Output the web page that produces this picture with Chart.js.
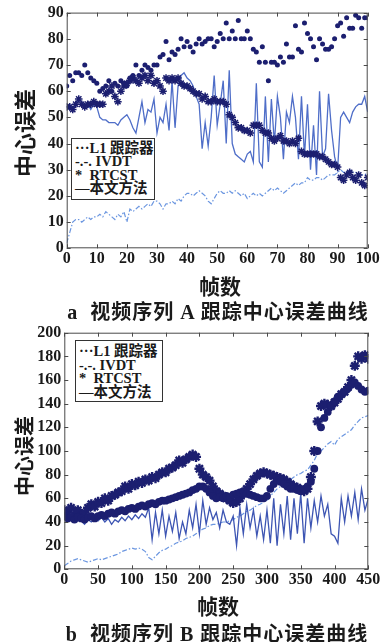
<!DOCTYPE html>
<html><head><meta charset="utf-8">
<script src="https://cdn.jsdelivr.net/npm/chart.js@4.4.1/dist/chart.umd.min.js"></script>
<style>
html,body{margin:0;padding:0;background:#fff;width:382px;height:642px;overflow:hidden;position:relative;}
.wrap{position:absolute;left:0;width:382px;height:300px;}
.t{position:absolute;color:#1a1a1a;white-space:nowrap;font-family:"Noto Sans CJK SC","Liberation Serif",serif;}
.yt{font-weight:700;transform:translate(-50%,-50%) rotate(-90deg);}
.xt{font-weight:700;transform:translate(-50%,-50%);}
.cap{font-family:"Liberation Serif","Noto Sans CJK SC",serif;font-weight:700;letter-spacing:1px;transform:translate(-50%,-50%);}
.leg{position:absolute;border:1.5px solid #333;background:#fff;box-sizing:border-box;font-family:"Liberation Serif","Noto Sans CJK SC",serif;font-weight:700;font-size:14.5px;color:#1a1a1a;padding-left:3px;}
.leg div{white-space:nowrap;}
</style></head>
<body>
<div class="wrap" style="top:0"><canvas id="ca" width="382" height="300"></canvas></div>
<div class="wrap" style="top:320px"><canvas id="cb" width="382" height="300"></canvas></div>

<div class="t yt" style="left:23px;top:133px;font-size:22px;">中心误差</div>
<div class="t xt" style="left:220px;top:285px;font-size:21px;">帧数</div>
<div class="t cap" style="left:218px;top:310px;font-size:20px;">a&nbsp; 视频序列 A 跟踪中心误差曲线</div>
<div class="leg" style="left:71px;top:138px;width:84px;height:62px;padding-top:3px;line-height:13.4px;">
<div>···L1 跟踪器</div><div>-.-. IVDT</div><div>*&nbsp; RTCST</div><div>—本文方法</div></div>

<div class="t yt" style="left:23px;top:456px;font-size:20px;">中心误差</div>
<div class="t xt" style="left:218px;top:605px;font-size:21px;">帧数</div>
<div class="t cap" style="left:217px;top:632px;font-size:20px;">b&nbsp; 视频序列 B 跟踪中心误差曲线</div>
<div class="leg" style="left:75px;top:340px;width:88px;height:62px;padding-top:4px;line-height:13.6px;">
<div>···L1 跟踪器</div><div>-.-. IVDT</div><div>*&nbsp; RTCST</div><div>—本文方法</div></div>

<script>
// ---------- Chart a data (frames 0..100) ----------
const framesA = Array.from({length:101},(_,i)=>i);
const l1A = [62,66,64,67,67,66,70,67,65,64, 63,60,61,62,64,60,63,62,64,63,
 62,65,66,70,66,68,70,69,68,70, 70,73,74,79,72,75,74,76,80,77,
 79,77,75,78,80,78,79,80,80,77, 79,82,80,86,80,83,80,87,80,80,
 83,80,76,75,71,77,71,64,71,71, 70,73,71,78,73,73,85,76,75,86,
 82,80,77,72,80,78,76,76,77,80, 85,86,81,88,84,84,89,88,84,88, 88];
const rtcstA = [54,54,53,55,57,55,54,55,55,56, 55,55,55,59,60,62,58,56,60,62,
 63,64,65,64,63,65,66,64,66,63, 64,62,60,65,64,65,64,65,63,62,
 62,61,60,59,59,57,58,56,56,57, 56,56,56,55,51,50,48,46,46,45,
 45,44,47,47,47,45,44,44,42,41, 42,43,41,41,40,41,40,42,37,36,
 36,36,36,36,35,35,34,33,32,32, 31,27,26,28,29,27,26,28,25,24, 27];
const oursA = [54,55,53,55,57,56,54,55,53,55, 54,50,49,49,48,48,48,47,49,50,
 51,49,46,44,50,56,48,53,52,57, 44,50,48,55,45,64,46,62,66,67,
 65,64,62,58,55,38,48,39,50,66, 47,55,64,40,68,40,36,35,34,33,
 36,37,33,63,33,31,58,33,57,40, 58,50,34,52,48,58,50,34,58,35,
 55,30,47,28,60,35,38,59,45,35, 30,50,52,50,48,52,54,55,55,58, 52];
const ivdtA = [2,6,10,11,11,10,11,12,11,12, 12,13,12,14,13,12,11,13,12,14,
 10,15,14,15,16,15,16,17,16,18, 18,17,15,17,17,18,17,19,18,20,
 21,21,20,21,22,21,20,18,17,19, 21,22,21,21,22,21,22,21,20,21,
 19,20,21,20,21,20,21,22,23,22, 23,22,21,22,23,24,25,24,25,25,
 27,26,26,27,27,26,27,28,28,28, 29,30,29,29,30,29,29,28,28,28, 29];
const xTicksA = [0,10,20,30,40,50,60,70,80,90,100];
const yTicksA = [0,10,20,30,40,50,60,70,80,90];

// ---------- Chart b data (every 5th frame, 0..450) ----------
const framesB = Array.from({length:91},(_,i)=>i*5);
const l1B = [45,43,44,42,44,43,42,44,45,43, 45,46,45,47,48,47,49,50,49,51,
 52,51,53,54,53,55,56,55,57,58, 58,59,60,61,62,63,64,65,67,68,
 70,70,68,65,62,60,61,60,62,61, 63,64,65,66,64,63,62,61,60,60,
 62,68,72,75,74,72,70,68,68,67, 66,68,70,74,85,100,120,128,133,138,
 142,146,148,150,153,156,158,155,152,150, 151];
const rtcstB = [50,48,52,46,50,45,48,52,55,53, 57,56,60,58,62,63,65,66,70,68,
 72,71,74,73,76,75,78,77,80,82, 82,85,86,88,92,90,93,95,97,95,
 85,80,78,75,70,66,64,62,60,58, 56,57,60,64,68,72,76,79,81,82,
 81,80,79,78,77,76,74,72,70,69, 67,66,68,78,100,125,138,140,139,138,
 141,144,148,150,154,160,172,180,178,181, 178];
const oursB = [45,42,44,40,43,41,38,42,40,43, 41,44,40,43,38,42,40,44,41,45,
 42,46,43,47,44,52,25,48,30,50, 28,45,32,48,26,40,30,50,35,55,
 30,58,38,52,42,48,35,50,40,38, 45,20,52,30,55,35,50,28,45,25,
 50,22,60,20,55,30,62,25,60,30, 64,22,60,35,58,40,62,45,55,30,
 28,22,60,40,62,45,65,42,68,50, 60];
const ivdtB = [3,5,7,8,9,8,7,6,7,8, 9,8,9,10,11,12,13,15,16,17,
 18,17,18,17,15,10,8,11,14,16, 17,19,20,22,23,24,26,27,28,30,
 32,34,35,37,38,38,39,40,40,41, 42,44,45,47,49,50,52,54,55,57,
 58,62,65,68,70,72,74,76,78,80, 81,83,84,88,92,98,100,103,106,108,
 105,110,112,114,116,118,122,125,128,129, 130];
const xTicksB = [0,50,100,150,200,250,300,350,400,450];
const yTicksB = [0,20,40,60,80,100,120,140,160,180,200];

const NAVY = '#1c1f70', DASH = '#6b96e0';

const framePlugin = {
  id: 'frame',
  afterDatasetsDraw(chart) {
    const {ctx, chartArea: a, scales: {x, y}} = chart;
    ctx.save();
    ctx.strokeStyle = '#4a4a4a';
    ctx.lineWidth = 1;
    ctx.strokeRect(a.left + 0.5, a.top + 0.5, a.right - a.left - 1, a.bottom - a.top - 1);
    ctx.beginPath();
    x.ticks.forEach(t => {
      const p = Math.round(x.getPixelForValue(t.value)) + 0.5;
      ctx.moveTo(p, a.bottom); ctx.lineTo(p, a.bottom - 4);
      ctx.moveTo(p, a.top); ctx.lineTo(p, a.top + 4);
    });
    y.ticks.forEach(t => {
      const p = Math.round(y.getPixelForValue(t.value)) + 0.5;
      ctx.moveTo(a.left, p); ctx.lineTo(a.left + 4, p);
      ctx.moveTo(a.right, p); ctx.lineTo(a.right - 4, p);
    });
    ctx.stroke();
    ctx.restore();
  }
};

function pts(xs, ys) { return xs.map((v, i) => ({x: v, y: ys[i]})); }

function makeChart(id, cfg) {
  const tickFont = {family: '"Liberation Serif", serif', size: 16, weight: 'bold'};
  return new Chart(document.getElementById(id), {
    type: 'line',
    data: {datasets: [
      {label: 'L1 跟踪器', data: pts(cfg.frames, cfg.l1), showLine: false, pointStyle: 'circle',
       pointRadius: cfg.dotR, backgroundColor: NAVY, borderColor: NAVY, pointBorderWidth: 0},
      {label: 'RTCST', data: pts(cfg.frames, cfg.rtcst), showLine: false, pointStyle: 'star',
       pointRadius: cfg.starR, borderColor: NAVY, backgroundColor: NAVY, pointBorderWidth: cfg.starW},
      {label: '本文方法', data: pts(cfg.frames, cfg.ours), borderColor: cfg.lineColor, borderWidth: 1.3,
       pointRadius: 0, tension: 0, fill: false},
      {label: 'IVDT', data: pts(cfg.frames, cfg.ivdt), borderColor: DASH, borderWidth: 1.2,
       borderDash: [5, 2, 1.5, 2], pointRadius: 0, tension: 0, fill: false}
    ]},
    options: {
      responsive: false, animation: false, devicePixelRatio: 1,
      layout: {padding: {top: cfg.padTop, right: cfg.padRight, left: 0, bottom: 0}},
      plugins: {legend: {display: false}, tooltip: {enabled: false}},
      scales: {
        x: {type: 'linear', min: cfg.xTicks[0], max: cfg.xTicks[cfg.xTicks.length - 1],
            afterBuildTicks: s => { s.ticks = cfg.xTicks.map(v => ({value: v})); },
            afterFit: s => { s.height = cfg.xH; },
            grid: {display: false, drawTicks: false}, border: {display: false},
            ticks: {autoSkip: false, maxRotation: 0, color: '#1a1a1a', font: tickFont, padding: 1}},
        y: {type: 'linear', min: cfg.yTicks[0], max: cfg.yTicks[cfg.yTicks.length - 1],
            afterBuildTicks: s => { s.ticks = cfg.yTicks.map(v => ({value: v})); },
            afterFit: s => { s.width = cfg.yW; },
            grid: {display: false, drawTicks: false}, border: {display: false},
            ticks: {autoSkip: false, color: '#1a1a1a', font: tickFont, padding: 3}}
      }
    },
    plugins: [framePlugin]
  });
}

makeChart('ca', {frames: framesA, l1: l1A, rtcst: rtcstA, ours: oursA, ivdt: ivdtA,
  xTicks: xTicksA, yTicks: yTicksA, padTop: 11.3, padRight: 14.3, yW: 66.7, xH: 51.7,
  dotR: 2.5, starR: 3.8, starW: 1.5, lineColor: '#4f6ec8'});
makeChart('cb', {frames: framesB, l1: l1B, rtcst: rtcstB, ours: oursB, ivdt: ivdtB,
  xTicks: xTicksB, yTicks: yTicksB, padTop: 12.7, padRight: 13.7, yW: 64.3, xH: 50.7,
  dotR: 3.9, starR: 5, starW: 2.4, lineColor: '#3d55b3'});
</script>
</body></html>
